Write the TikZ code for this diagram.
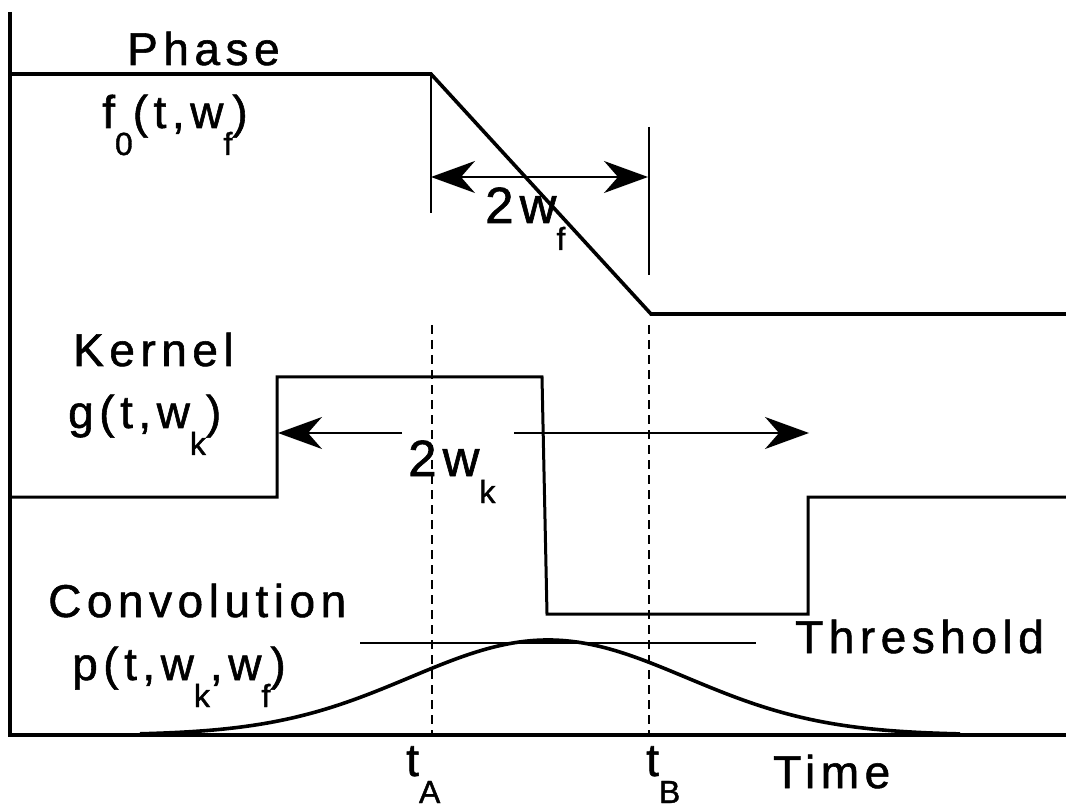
\documentclass[tikz,border=0pt]{standalone}
\usepackage{fontspec}
\setmainfont[LetterSpace=12,FakeBold=1.2]{Liberation Sans}
\usetikzlibrary{arrows.meta}
\newcommand\mysub[1]{\raisebox{-27pt}{\fontsize{32}{32}\selectfont #1}}
\tikzset{
  lbl/.style={anchor=base west,inner sep=0pt,font=\fontsize{46}{50}\selectfont},
  biglbl/.style={anchor=base west,inner sep=0pt,font=\fontsize{51}{55}\selectfont},
  thick curve/.style={line width=3.6pt,line join=miter,line cap=butt},
  kern curve/.style={line width=3pt,line join=miter},
  thin line/.style={line width=1.5pt},
  guide/.style={line width=2pt,dash pattern=on 9pt off 6pt},
  dimhead/.style={Stealth[length=44pt,width=32pt,inset=14pt]},
  dimarrow/.style={line width=1.5pt,-{Stealth[length=44pt,width=32pt,inset=14pt]}},
  dimarrows/.style={line width=1.5pt,{Stealth[length=44pt,width=32pt,inset=14pt]}-{Stealth[length=44pt,width=32pt,inset=14pt]}},
}
\begin{document}
\begin{tikzpicture}[x=1pt,y=-1pt]
\useasboundingbox (0,0) rectangle (1066,810);
% axes
\coordinate (ytop) at (10,12);
\coordinate (origin) at (10,735);
\coordinate (xend) at (1066,735);
\draw[line width=4pt] (ytop) -- (origin) -- (xend);
% phase curve
\coordinate (p0) at (10,74);
\coordinate (p1) at (431,74);
\coordinate (p2) at (651,314);
\coordinate (p3) at (1066,314);
\draw[thick curve] (p0) -- (p1) -- (p2) -- (p3);
% 2w_f dimension
\coordinate (fa) at (431,74);
\coordinate (fb) at (431,213);
\coordinate (fc) at (649,127);
\coordinate (fd) at (649,275);
\draw[thin line] (fa) -- (fb);
\draw[thin line] (fc) -- (fd);
\coordinate (fl) at (431,177);
\coordinate (fr) at (648,177);
\draw[dimarrows] (fl) -- (fr);
% kernel
\coordinate (k0) at (10,497);
\coordinate (k1) at (277,497);
\coordinate (k2) at (277,377);
\coordinate (k3) at (542,377);
\coordinate (k4) at (547,614);
\coordinate (k5) at (808,614);
\coordinate (k6) at (808,497);
\coordinate (k7) at (1066,497);
\draw[kern curve] (k0) -- (k1) -- (k2) -- (k3) -- (k4) -- (k5) -- (k6) -- (k7);
% 2w_k arrows
\coordinate (ka) at (402,433);
\coordinate (kb) at (278,433);
\coordinate (kc) at (514,433);
\coordinate (kd) at (809,433);
\draw[dimarrow] (ka) -- (kb);
\draw[dimarrow] (kc) -- (kd);
% guides
\coordinate (ga) at (432,325);
\coordinate (gb) at (432,735);
\coordinate (gc) at (649,325);
\coordinate (gd) at (649,735);
\draw[guide] (ga) -- (gb);
\draw[guide] (gc) -- (gd);
% threshold
\coordinate (ta) at (360,643);
\coordinate (tb) at (756,643);
\draw[thin line] (ta) -- (tb);
% convolution
\draw[line width=3.6pt] plot[domain=140:960,samples=120,smooth] (\x,{735-95*exp(-0.5*((\x-548)/138)^2)});
% labels
\node[lbl] (phase) at (127,65) {Phase};
\node[lbl] (fphase) at (102,128) {f\mysub{0}(t,w\mysub{f})};
\node[lbl] (kernel) at (73,366) {Kernel};
\node[lbl] (gk) at (68,428) {g(t,w\mysub{k})};
\node[biglbl] (twowk) at (408,476) {2w\mysub{k}};
\node[biglbl] (twowf) at (485,223) {2w\mysub{f}};
\node[lbl] (conv) at (48,617) {Convolution};
\node[lbl] (pk) at (72,680) {p(t,w\mysub{k},w\mysub{f})};
\node[lbl] (thr) at (795,653) {Threshold};
\node[lbl] (tA) at (406,776) {t\mysub{A}};
\node[lbl] (tB) at (646,776) {t\mysub{B}};
\node[lbl] (time) at (773,788) {Time};
\end{tikzpicture}
\end{document}
